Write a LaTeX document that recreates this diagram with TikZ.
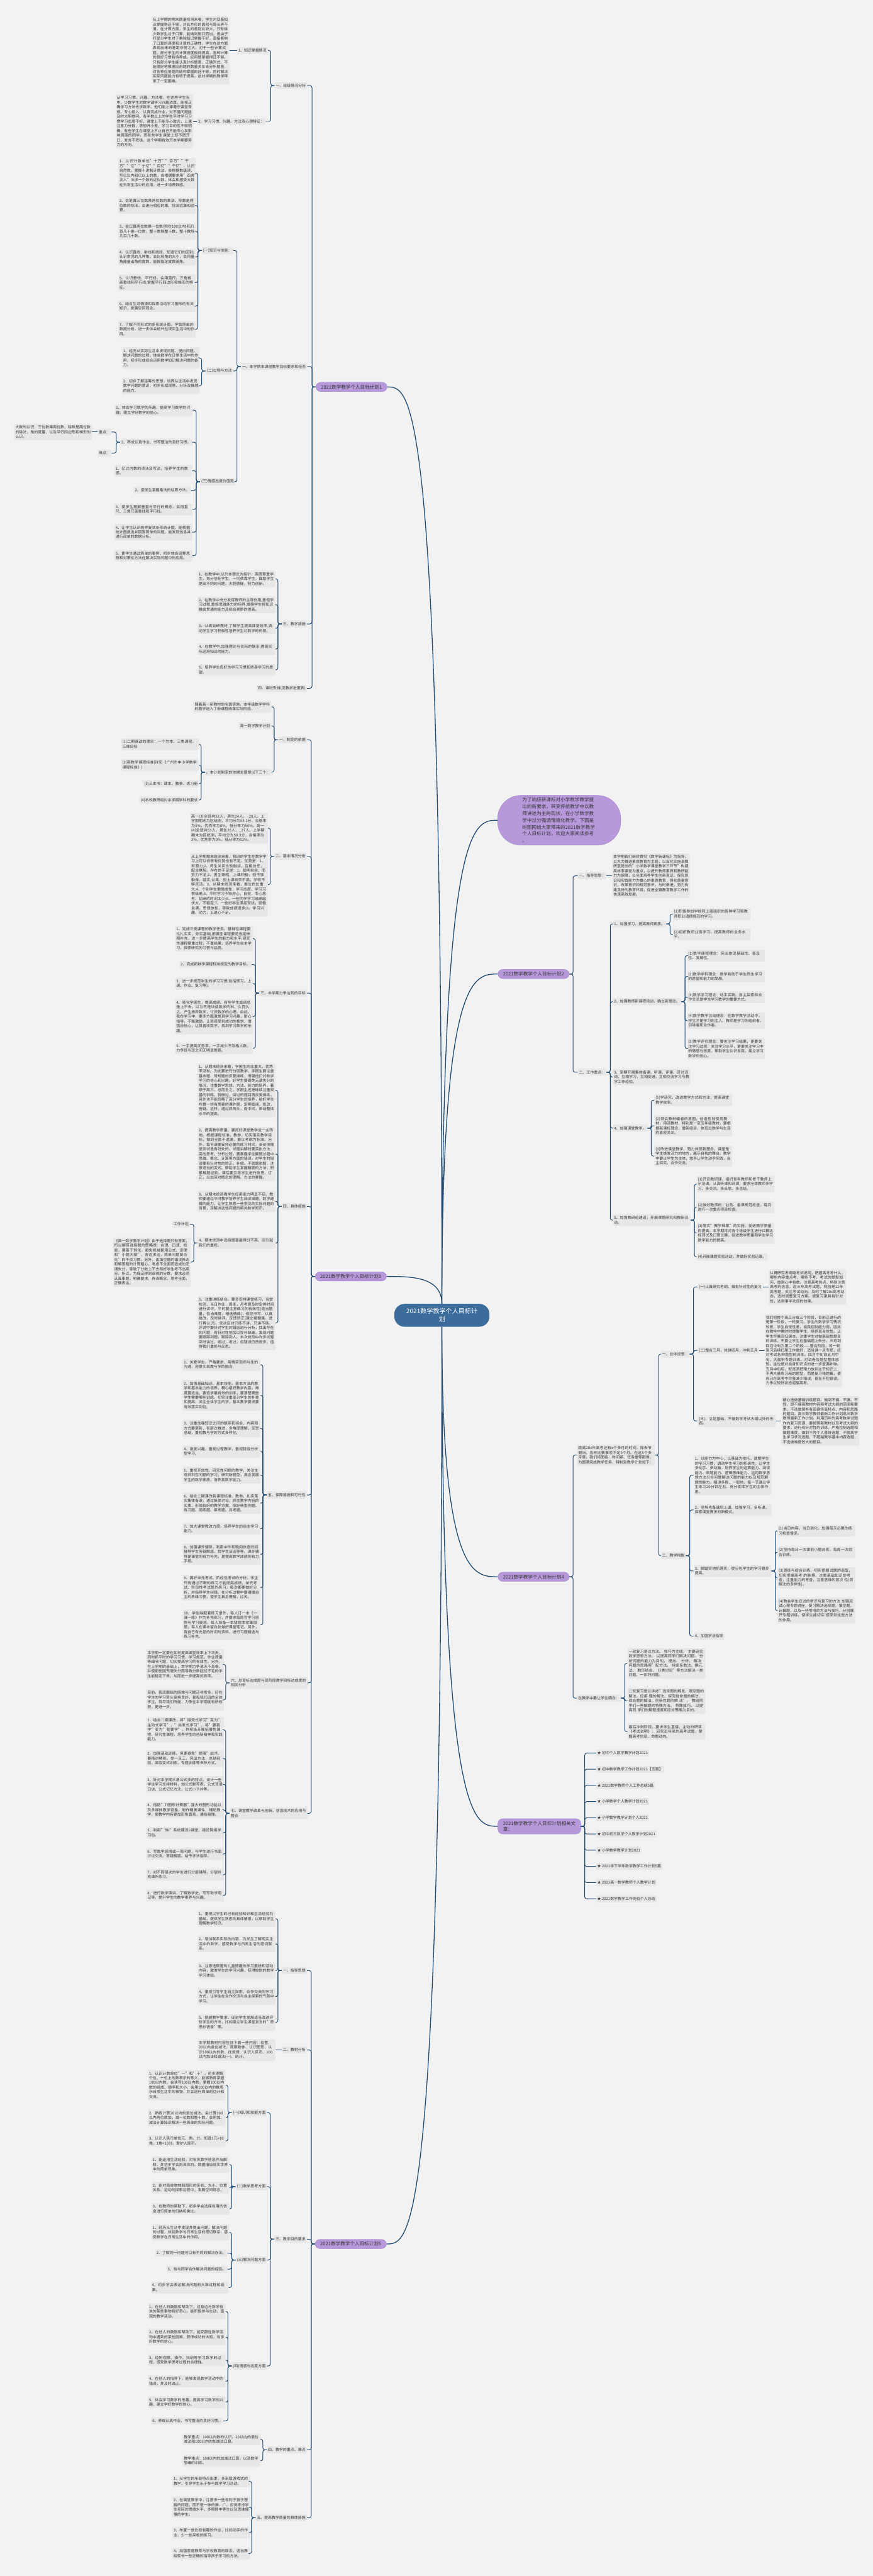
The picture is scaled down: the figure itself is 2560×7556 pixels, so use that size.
\documentclass[tikz,border=0pt]{standalone}
\usepackage{fontspec}
\setmainfont{Noto Sans CJK SC}
\XeTeXlinebreaklocale "zh"
\XeTeXlinebreakskip = 0pt plus 0.6pt
\usepackage{tikz}
\usetikzlibrary{calc}
\definecolor{bgcol}{HTML}{F2F2F2}
\definecolor{leafcol}{HTML}{E7E7E7}
\definecolor{txtcol}{HTML}{333333}
\definecolor{linkcol}{HTML}{1F4A72}
\definecolor{purplecol}{HTML}{B799DB}
\definecolor{purpleedge}{HTML}{A584CF}
\definecolor{centercol}{HTML}{3C6C9C}

\begin{document}
\begin{tikzpicture}[x=0.5pt,y=-0.5pt,
  leaf/.style={fill=leafcol,rounded corners=1.5pt,inner xsep=1.8pt,inner ysep=2.6pt,text width=110.4pt,align=left,text=txtcol,font=\fontsize{5.5pt}{6.9pt}\selectfont},
  lbl/.style={fill=leafcol,rounded corners=1.5pt,inner xsep=1.8pt,inner ysep=2.6pt,text=txtcol,font=\fontsize{5.5pt}{6.9pt}\selectfont},
  branch/.style={fill=purplecol,draw=purpleedge,line width=0.4pt,rounded corners=7pt,inner xsep=7.5pt,inner ysep=3.5pt,text=black!80,font=\fontsize{7pt}{9pt}\selectfont},
  conn/.style={draw=linkcol,line width=0.9pt,rounded corners=3pt},
  mainlink/.style={draw=linkcol,line width=1.2pt}]
\fill[bgcol] (0,0) rectangle (2560,7556);
\useasboundingbox (0,0) rectangle (2560,7556);

% centre and introduction
\node[fill=centercol,rounded corners=15pt,minimum width=139.5pt,minimum height=33.5pt,align=center,text=white,font=\fontsize{9.3pt}{12pt}\selectfont] (ctr) at (1296,3858) {2021数学教学个人目标计\\划};
\node[fill=purplecol,draw=purpleedge,line width=0.4pt,rounded corners=34pt,minimum width=180.5pt,minimum height=71.5pt,text width=108pt,align=left,text=black!80,font=\fontsize{7pt}{10pt}\selectfont] (intro) at (1640,2406) {为了响应新课标对小学数学教学提\\出的新要求，转变传统教学中以教\\师讲述为主的现状，在小学数学教\\学中过分强调情境化教学。下面是\\树图网给大家带来的2021数学教学\\个人目标计划，欢迎大家阅读参考\\。};

% plan 1
\node[branch,anchor=west] (b1) at (926,1135) {2021数学教学个人目标计划1};
\node[lbl,anchor=east] (b1a) at (901,251) {一、班级情况分析};
\node[lbl,anchor=east] (b1a1) at (786,148) {1、知识掌握情况};
\node[leaf,anchor=east] (b1a1x) at (673,148) {从上学期的期末质量检测来看，学生对双基知识掌握得还不够，对长方形的面积与周长弄不清。在计算方面，学生的差别比较大，只有极少数学生对于口算，能做到脱口而出，但由于打部分学生对于乘除知识掌握不好，直接影响了口算的速度和计算的正确性，学生在这方面表现出来的差距非常之大。对于一些计算式题，部分学生的计算速度极待提高，各种计算的良好习惯有待养成。应用题掌握得还不够，只有部分学生能认真分析题意，正确列式，不能很好地根据应用题的数量关系去分析题意，对各种应用题的结构掌握的还不够。同时解决实际问题能力有待于提高。这对学期的教学带来了一定困难。};
\node[lbl,anchor=east] (b1a2) at (779,356) {2、学习习惯、兴趣、方法及心理特征：};
\node[leaf,anchor=east] (b1a2x) at (567,356) {从学习习惯、兴趣、方法看，在这些学生当中，少数学生对数学课学习兴趣浓厚，能按正确学习方法去学数学。他们能上课遵守课堂常规，专心投入，认真完成作业，对不懂问题能及时大胆提问。有半数以上的学生平时学习习惯学习态度不好，课堂上不能专心致志，上课注意力分散，思想开小差，学习目的性不够明确，有些学生在课堂上不止自己不能专心发影响周围的同学。而有些学生课堂上却不愿开口，发言不积极。这个学期有效开本学期要努力的方向。};
\node[lbl,anchor=east] (b1b) at (901,1075) {一、本学期本课程教学目标要求和任务};
\node[lbl,anchor=east] (b1b1) at (684,735) {(一)知识与技能：};
\node[leaf,anchor=east] (b1b1x1) at (575,508) {1、认识计数单位"十万""百万""千万""亿""十亿""百亿""千亿"，认识自然数。掌握十进制计数法，会根据数级读、写亿以内和亿以上的数，会根据要求用"四舍五入"法求一个数的近似数。体会和感受大数在日常生活中的应用，进一步培养数感。};
\node[leaf,anchor=east] (b1b1x2) at (575,603) {2、会笔算三位数乘两位数的乘法、除数是两位数的除法，会进行相应的乘、除法估算和验算。};
\node[leaf,anchor=east] (b1b1x3) at (575,679) {3、会口算两位数乘一位数(积在100以内)和几百几十乘一位数，整十数除整十数、整十数除几百几十数。};
\node[leaf,anchor=east] (b1b1x4) at (575,754) {4、认识直线、射线和线段，知道它们的区别;认识常见的几种角，会比较角的大小，会用量角器量出角的度数，能按指定度数画角。};
\node[leaf,anchor=east] (b1b1x5) at (575,829) {5、认识垂线、平行线，会用直尺、三角板画垂线和平行线;掌握平行四边形和梯形的特征。};
\node[leaf,anchor=east] (b1b1x6) at (575,898) {6、结合生活情境和探索活动学习图形的有关知识，发展空间观念。};
\node[leaf,anchor=east] (b1b1x7) at (575,966) {7、了解不同形式的条形统计图，学会简单的数据分析，进一步体会统计在现实生活中的作用。};
\node[lbl,anchor=east] (b1b2) at (684,1088) {(二)过程与方法};
\node[leaf,anchor=east] (b1b2x1) at (586,1050) {1、经历从实际生活中发现问题、提出问题、解决问题的过程，体会数学在日常生活中的作用，初步形成综合运用数学知识解决问题的能力。};
\node[leaf,anchor=east] (b1b2x2) at (586,1132) {2、初步了解运筹的思想，培养从生活中发现数学问题的意识，初步形成观察、分析及推理的能力。};
\node[lbl,anchor=east] (b1b3) at (690,1413) {(三)情感态度价值观};
\node[leaf,anchor=east] (b1b3x1) at (565,1203) {1、体会学习数学的乐趣，提高学习数学的兴趣，建立学好数学的信心。};
\node[lbl,anchor=east] (b1b3x2) at (564,1297) {2、养成认真作业、书写整洁的良好习惯。};
\node[lbl,anchor=east] (b1b3k) at (327,1267) {重点：};
\node[leaf,anchor=east] (b1b3kx) at (270,1267) {大数的认识，三位数乘两位数，除数是两位数的除法，角的度量，以及平行四边形和梯形的认识。};
\node[lbl,anchor=east] (b1b3n) at (327,1329) {难点：};
\node[leaf,anchor=east] (b1b3x3) at (564,1381) {1、亿以内数的读法及写法，培养学生的数感。};
\node[lbl,anchor=east] (b1b3x4) at (560,1438) {2、使学生掌握乘法的估算方法。};
\node[leaf,anchor=east] (b1b3x5) at (564,1494) {3、使学生理解垂直与平行的概念，会用直尺、三角尺画垂线和平行线。};
\node[leaf,anchor=east] (b1b3x6) at (564,1561) {4、让学生认识两种复式条形统计图，能根据统计图提出并回答简单的问题，能发现信息并进行简单的数据分析。};
\node[leaf,anchor=east] (b1b3x7) at (564,1630) {5、使学生通过简单的事例，初步体会运筹思想和对策论方法在解决实际问题中的应用。};
\node[lbl,anchor=east] (b1c) at (900,1830) {三、教学措施};
\node[leaf,anchor=east] (b1cx1) at (808,1698) {1、在教学中,以升本理念为指针：高度尊重学生，充分信任学生，一切依靠学生，鼓励学生提出不同的问题，大胆质疑，努力创新。};
\node[leaf,anchor=east] (b1cx2) at (808,1774) {2、在教学中充分发挥教师的主导作用,重视学习过程,重视思维能力的培养,增强学生将知识融会贯通的能力及综合素质的提高。};
\node[leaf,anchor=east] (b1cx3) at (808,1843) {3、认真钻研教材,了解学生提高课堂效率,调动学生学习积极性培养学生对数学的热爱。};
\node[leaf,anchor=east] (b1cx4) at (808,1904) {4、在教学中,加强理论与实际的联系,提高实际运用知识的能力。};
\node[leaf,anchor=east] (b1cx5) at (808,1965) {5、培养学生良好的学习习惯和终身学习的愿望。};
\node[lbl,anchor=east] (b1d) at (900,2019) {四、课时安排(见教学进度表)};

% plan 3
\node[branch,anchor=west] (b3) at (924,3744) {2021数学教学个人目标计划3};
\node[lbl,anchor=east] (b3a) at (900,2170) {一、制定的依据};
\node[leaf,anchor=east] (b3ax1) at (796,2073) {随着高一新教材的全面实施，本年级数学学科的教学进入了新课程改革实际阶段，};
\node[lbl,anchor=east] (b3ax2) at (796,2129) {高一数学教学计划};
\node[lbl,anchor=east] (b3ax3) at (796,2265) {。本计划制定的依据主要是以下三个：};
\node[leaf,anchor=east] (b3ay1) at (584,2183) {(1)二期课改的理念：一个为本、三类课程、三维目标};
\node[leaf,anchor=east] (b3ay2) at (584,2244) {(2)新数学课程标准(详见《广州市中小学数学课程标准》)};
\node[lbl,anchor=east] (b3ay3) at (584,2299) {(3)三本书：课本、教参、练习册};
\node[lbl,anchor=east] (b3ay4) at (584,2347) {(4)本校教研组对本学期学科的要求};
\node[lbl,anchor=east] (b3b) at (900,2512) {二、基本情况分析};
\node[leaf,anchor=east] (b3bx1) at (786,2429) {高一(3)全班共52人，男生24人，\_28人。上学期期末为区统测，平均分为54.1分，合格率为5\%，优秀率为0\%，低分率为56\%。高一(4)全班共53人，男生26人，\_27人。上学期期末为区统测，平均分为50.3分，合格率为3\%，优秀率为0\%，低分率为62\%。};
\node[leaf,anchor=east] (b3bx2) at (786,2595) {从上学期期末统测来看，我班的学生在数学学习上可以说既有优势也有不足。优势是：1、有潜力;2、师生关系比较融洽，互相信任，配合默契。存在的不足是：1、聪明有余，而努力不足;2、男生聪明，上课积极，但不够勤奋、踏实;认真，但上课效率不高，学得不够灵活。3、从期末统测来看，差生的比重大;4、个别学生懒惰成性，学习态度、学习习惯极差;5、平时学习不够用心，自觉，专心思考、钻研的时间太少;6、一些同学学习成绩起伏大，不稳定;7、一些好学生满足现状，骄傲自满，思想放松，导致成绩退步;8、学习兴趣，动力，上进心不足。};
\node[lbl,anchor=east] (b3c) at (900,2913) {三、本学期力争达到的目标};
\node[leaf,anchor=east] (b3cx1) at (742,2753) {1、完成三类课程的教学任务。基础性课程要扎扎实实，夯实基础;拓展性课程要适当延伸和补充，进一步提高学生的能力和水平;研究性课程要重过程，不重结果，培养学生自主学习，探索研究的习惯与品质。};
\node[lbl,anchor=east] (b3cx2) at (738,2829) {2、完成新数学课程标准规定的教学目标。};
\node[leaf,anchor=east] (b3cx3) at (742,2885) {3、进一步规范学生的学习习惯(包括预习、上课、作业、复习等)。};
\node[leaf,anchor=east] (b3cx4) at (742,2982) {4、转化学困生，提高成绩。有些学生成绩总是上不去，以为不是块读数学的料，久而久之，产生放弃数学，讨厌数学的心理。由此，我在学习中，要多方面激发其学习兴趣，耐心指导，不断激励。让其感受到成功的喜悦，增强自信心，让其喜欢数学，找到学习数学的乐趣。};
\node[leaf,anchor=east] (b3cx5) at (742,3075) {5、一手提高优秀率，一手减少不及格人数，力争班与班之间无明显差距。};
\node[lbl,anchor=east] (b3d) at (900,3539) {四、具体措施};
\node[leaf,anchor=east] (b3dx1) at (808,3198) {1、从期末统测来看，学困生的比重大，优秀率没有。为此要进行分层教学，学困生要注重基本题、常规题的反复操练，增强他们对数学学习的信心和兴趣。好学生要避免无谓失分的情况，注重数学思想、方法、能力的培养，着眼于高三。总而言之，学困生还是继续注重双基的训练，将做过，讲过的题目再反复操练。另外也不能忽略了高分学生的培养，给好学生布置一些有质量的课外题，定期查阅，批改，答疑。这样，通过抓两头，促中间，带动整体水平的提高。};
\node[leaf,anchor=east] (b3dx2) at (808,3385) {2、提高教学质量，要抓好课堂教学这一主阵地。根据课程标准，教参，切实落实教学目标，做到全面不遗漏，要以考纲为标准。另外，每节课要安排必要的练习时间，多安排随堂测试是有好处的。试题讲解时要突出方法，突出思考、分析过程，要暴露学生解题过程中思维、概念、计算等方面的错误，对学生的错误要有针对性的矫正，补偿。不就题讲题，注意适当的变式。帮助学生掌握解题的方法，积累解题经验，课后要引导学生进行反思、订正，以加深对概念的理解，方法的掌握。};
\node[leaf,anchor=east] (b3dx3) at (808,3524) {3、从期末统测看学生应用能力明显不足。教师要通过平时教学培养学生阅读审题、数学建模的能力。让学生熟悉一些常见的实际问题的背景，及解决这些问题的相关数学知识。};
\node[leaf,anchor=east] (b3dx4) at (808,3646) {4、期末统测中选择题普遍得分不高，应引起我们的重视，};
\node[lbl,anchor=east] (b3dy1) at (557,3591) {工作计划};
\node[leaf,anchor=east] (b3dy2) at (560,3702) {《高一数学教学计划》由于选择题只有答案，所以解答选择题的策略是：合理、迅速、检验，要善于转化，避免机械套用公式、定理和"小题大做"，舍近求远，简单问题复杂化"的不良习惯。另外，由填空题的错误表达和解答题的计算粗心、考虑不全面而造成的无谓失分，导致了分数上不去和好学生考不出高分。所以，为保证得到该得的分数，要求必须认真审题，明确要求，弄清概念，思考全面，正确表达。};
\node[leaf,anchor=east] (b3dx5) at (808,3881) {5、注重讲练结合。要多安排课堂练习，当堂检测，当日作业，周练，月考要及时安排时间进行讲评。平时要注意练习的有效性(适当题量，恰当难度，精选精练)，规范书写，认真批改，及时讲评，反馈矫正(建立错题集，进行再认识)。坚决反对只练不讲，只讲不练。评讲中要针对学生的错因进行分析，找出存在的问题，有针对性地加以弥补缺漏，发现问题要跟踪到题，跟踪到人。本次统测中许多试题平时讲过，练过，考过，但错误仍然很多，值得我们重视与反思。};
\node[lbl,anchor=east] (b3e) at (900,4385) {五、保障措施和可行性};
\node[leaf,anchor=east] (b3ex1) at (764,4003) {1、关爱学生，严格要求，用情实现师与生的沟通，用景实现教与学的融合;};
\node[leaf,anchor=east] (b3ex2) at (764,4093) {2、加强基础知识、基本技能、基本方法的教学和基本能力的培养，精心组织教学内容，难度要适当，要追求最有效的训练，要清楚哪些学生需要哪些训练，切实注重部分学生的补差和提高，关注全体学生的学，基本教学要求要有效落实到位;};
\node[leaf,anchor=east] (b3ex3) at (764,4190) {3、注重加强知识之间的联系和综合，内容和方式要更新，有层次推进，多角度理解，反思总结，重视教与学的方式多样化;};
\node[leaf,anchor=east] (b3ex4) at (764,4258) {4、激发兴趣，重视过程教学，重视错误分析型学习;};
\node[leaf,anchor=east] (b3ex5) at (764,4327) {5、重视开放性、研究性问题的教学，关注主观评判性问题的学习，研究新题型，真正发展学生的数学素质，培养其数学能力。};
\node[leaf,anchor=east] (b3ex6) at (764,4409) {6、结合二期课改新课程标准、教参，扎实落实集体备课，通过集体讨论，抓住教学内容的实质，形成较好的教学方案，拟好典型例题、练习题、周练题、章考题、月考题。};
\node[leaf,anchor=east] (b3ex7) at (764,4484) {7、加大课堂教改力度，培养学生的自主学习能力。};
\node[leaf,anchor=east] (b3ex8) at (764,4559) {8、加强课外辅导，利用中午和晚间休息时间辅导学生答疑解惑、找学生谈话等等。课外辅导是课堂的有力补充，是提高数学成绩的有力手段。};
\node[leaf,anchor=east] (b3ex9) at (764,4657) {9、搞好单元考试、阶段性考试的分析。学生只有通过不断的练习才能提高成绩，单元考试、阶段性考试是的练习，每次都要做好分析，并指导学生纠错。在分析过程中要遵循自主的思维习惯，使学生真正理解，过关。};
\node[leaf,anchor=east] (b3ex10) at (764,4766) {10、学生除配套练习册外，每人订一本《一课一练》作为补充练习，并要求每周写学习感悟与学习疑惑，每人准备一本错题本收集错题，每人在课本留白处做好课堂笔记。另外，我自己有充足的时间与资料，进行习题精选与练习补充。};
\node[leaf,anchor=east] (b3f) at (902,4936) {六、总目标达成度与现阶段教学目标达成度的相关分析};
\node[leaf,anchor=east] (b3fx1) at (657,4882) {本学期一定要在如何提高课堂效率上下功夫，同时抓平时的学习习惯，学习规范，作业质量等细节问题，切实提高学习的有效性。另外，在上学期的基础上，本学期力争消灭不及格，并使那些因无谓失分而导致分数起伏不定的学生能稳定下来，从而进一步提高优秀率。};
\node[leaf,anchor=east] (b3fx2) at (657,4986) {目前，我班面临的困难与问题还非常多，好在学生的学习势头保持良好。我和我们班的全体学生，将尽我们所能，力争在本学期能有所收获，更进一步。};
\node[leaf,anchor=east] (b3g) at (902,5319) {七、课堂教学改革与创新、信息技术的应用与整合};
\node[leaf,anchor=east] (b3gx1) at (657,5074) {1、结合二期课改，将"接受式学习"变为"主动式学习"，"启发式学习"，将"要我学"变为"我要学"，并积极开展拓展性课程，研究性课程，培养学生的创新精神和实践能力。};
\node[leaf,anchor=east] (b3gx2) at (657,5158) {2、加强基础训练。但要避免"题海"战术，要精讲精练。举一反三，突出方法，总结经验，采取变式训练，专题训练等多种方式。};
\node[leaf,anchor=east] (b3gx3) at (657,5234) {3、针对本学期三角公式多的特点，设计一些学生学习支持材料，如公式默写表，公式背诵口诀，公式记忆方法，公式小卡片等。};
\node[leaf,anchor=east] (b3gx4) at (657,5309) {4、借助"TI图形计算器"强大的图形功能以及多媒体教学设备，制作精美课件，辅助教学，使教学内容更加形象直观，通俗易懂。};
\node[leaf,anchor=east] (b3gx5) at (657,5376) {5、利用"Bb"系统建设e课堂，建设网络学习包。};
\node[leaf,anchor=east] (b3gx6) at (657,5438) {6、写数学感悟或一周问题，与学生进行书面讨论交流。答疑解惑。给予学法指导。};
\node[leaf,anchor=east] (b3gx7) at (657,5499) {7、对不同层次的学生进行分层辅导，分层补充课外练习。};
\node[leaf,anchor=east] (b3gx8) at (657,5560) {8、进行数学演讲，了解数学史，写写数学周记等，提升学生的数学素养与兴趣。};

% plan 5
\node[branch,anchor=west] (b5) at (924,6582) {2021数学教学个人目标计划5};
\node[lbl,anchor=east] (b5a) at (900,5780) {一、指导思想};
\node[leaf,anchor=east] (b5ax1) at (808,5628) {1、重视以学生的已有经验知识和生活经验为基础，提供学生熟悉的具体情景，以帮助学生理解数学知识。};
\node[leaf,anchor=east] (b5ax2) at (808,5702) {2、增加联系实际的内容，为学生了解现实生活中的数学，感受数学与日常生活的密切联系。};
\node[leaf,anchor=east] (b5ax3) at (808,5780) {3、注意选取富有儿童情趣的学习素材和活动内容，激发学生的学习兴趣，获得愉悦的数学学习体验。};
\node[leaf,anchor=east] (b5ax4) at (808,5856) {4、重视引导学生自主探索，合作交流的学习方式，让学生在合作交流与自主探索的气氛中学习。};
\node[leaf,anchor=east] (b5ax5) at (808,5932) {5、把握教学要求，促进学生发展适当改进评价学生的方法，比如建立学生课堂发言的"奇思妙语录"等。};
\node[lbl,anchor=east] (b5b) at (900,6013) {二、教材分析};
\node[leaf,anchor=east] (b5bx) at (808,6013) {本学期教材内容包括下面一些内容：位置、20以内退位减法、观察物体、认识图形、认识100以内的数、找规律、认识人民币、100以内加法和减法(一)、统计。};
\node[lbl,anchor=east] (b5c) at (900,6568) {三、教学目的要求};
\node[lbl,anchor=east] (b5c1) at (783,6197) {(一)知识和技能方面};
\node[leaf,anchor=east] (b5c1x1) at (662,6116) {1、认识计数单位"一"和"十"，初步理解个位、十位上的数表示的意义，能够熟练掌握100以内数。会读写100以内数。掌握100以内数的组成、顺序和大小，会用100以内的数表示日常生活中的事物，并会进行简单的估计和交流。};
\node[leaf,anchor=east] (b5c1x2) at (662,6212) {2、熟练计算20以内的退位减法。会计算100以内两位数加，减一位数和整十数，会用加、减法计算知识解决一些简单的实际问题。};
\node[leaf,anchor=east] (b5c1x3) at (662,6280) {3、认识人民币单位元、角、分。知道1元=10角，1角=10分。爱护人民币。};
\node[lbl,anchor=east] (b5c2) at (783,6414) {(二)数学思考方面};
\node[leaf,anchor=east] (b5c2x1) at (673,6349) {1、能运用生活经验，对有关数学信息作出解释，并初步学会用具体的。数据描绘现实世界中的简单现象。};
\node[leaf,anchor=east] (b5c2x2) at (673,6417) {2、能对简单物体和图形的形状、大小、位置关系、运动的探索过程中，发展空间观念。};
\node[leaf,anchor=east] (b5c2x3) at (673,6479) {3、在教师的帮助下，初步学会选择有用的信息进行简单的归纳和类比。};
\node[lbl,anchor=east] (b5c3) at (783,6629) {(三)解决问题方面};
\node[leaf,anchor=east] (b5c3x1) at (673,6548) {1、经历从生活中发现并提出问题，解决问题的过程，体验数学与日常生活的密切联系，感受数学在日常生活中的作用。};
\node[lbl,anchor=east] (b5c3x2) at (667,6609) {2、了解同一问题可以有不同的解决办法。};
\node[lbl,anchor=east] (b5c3x3) at (667,6656) {3、有与同学合作解决问题的经验。};
\node[leaf,anchor=east] (b5c3x4) at (671,6710) {4、初步学会表达解决问题的大致过程和结果。};
\node[lbl,anchor=east] (b5c4) at (783,6940) {(四)情感与态度方面};
\node[leaf,anchor=east] (b5c4x1) at (662,6780) {1、在他人的鼓励和帮助下，对身边与数学有关的某些事物有好奇心，能积极参与生动、直观的教学活动。};
\node[leaf,anchor=east] (b5c4x2) at (662,6855) {2、在他人的鼓励和帮助下，能克服在数学活动中遇到的某些困难，获得成功的体验，有学好数学的信心。};
\node[leaf,anchor=east] (b5c4x3) at (662,6923) {3、经历观察、操作、归纳等学习数学的过程，感受数学思考过程的合理性。};
\node[leaf,anchor=east] (b5c4x4) at (662,6985) {4、在他人的指导下，能够发现数学活动中的错误，并及时改正。};
\node[leaf,anchor=east] (b5c4x5) at (662,7046) {5、体会学习数学的乐趣，提高学习数学的兴趣，建立学好数学的信心。};
\node[lbl,anchor=east] (b5c4x6) at (655,7101) {6、养成认真作业、书写整洁的良好习惯。};
\node[lbl,anchor=east] (b5d) at (900,7186) {四、教学的重点、难点};
\node[leaf,anchor=east] (b5dx1) at (764,7155) {教学重点：100以内数的认识，20以内的退位减法和100以内的加减法口算。};
\node[leaf,anchor=east] (b5dx2) at (764,7218) {教学难点：100以内的加减法口算，以及数学思维的训练。};
\node[lbl,anchor=east] (b5e) at (900,7385) {五、提高教学质量的具体措施};
\node[leaf,anchor=east] (b5ex1) at (734,7278) {1、从学生的年龄特点出发，多采取游戏式的教学，引导学生乐于参与数学学习活动。};
\node[leaf,anchor=east] (b5ex2) at (734,7354) {2、在课堂教学中，注意多一些有利于孩子理解的问题，而不是一味的难、广。应该考虑学生实际的思维水平，多照顾中等生以及思维偏慢的学生。};
\node[leaf,anchor=east] (b5ex3) at (734,7429) {3、布置一些比较有趣的作业，比如动手的作业，少一些呆板的练习。};
\node[leaf,anchor=east] (b5ex4) at (734,7490) {4、加强家庭教育与学校教育的联系，适当教给家长一些正确的指导孩子学习的方法。};

% plan 2
\node[branch,anchor=west] (b2) at (1460,2857) {2021数学教学个人目标计划2};
\node[lbl,anchor=west] (b2a) at (1694,2569) {一、指导思想：};
\node[leaf,anchor=west] (b2ax) at (1795,2569) {本学期我们继续贯彻《数学新课标》为指导，以大力推进素质教育为主题，以深化实施县教研室提出的"小学数学课堂教学三环节"构建高效率课堂为重点，以提升教师素质和教研能力为保障，以全面培养学生创新意识、探究意识和实践能力为重心的素质教育，强化质量意识，改革意识和规范意识，与时俱进，努力构建良好的教育环境，促进全镇教育教学工作的快速高效发展。};
\node[lbl,anchor=west] (b2b) at (1694,3145) {二、工作重点：};
\node[lbl,anchor=west] (b2b1) at (1797,2710) {1、加强学习，提高教师素质。};
\node[leaf,anchor=west] (b2b1x1) at (1973,2681) {(1)积极参加学校和上级组织的各种学习和教师职业道德规范的学习。};
\node[leaf,anchor=west] (b2b1x2) at (1973,2741) {(2)组织教师业务学习，提高教师的业务水平。};
\node[lbl,anchor=west] (b2b2) at (1797,2938) {2、加强教师新课程培训，确立新理念。};
\node[leaf,anchor=west] (b2b2x1) at (2015,2803) {(1)数学课程理念：突出体现基础性、普及性、发展性。};
\node[leaf,anchor=west] (b2b2x2) at (2015,2864) {(2)数学学科理念：数学有助于学生终生学习的愿望和能力的发展。};
\node[leaf,anchor=west] (b2b2x3) at (2015,2925) {(3)数学学习理念：动手实践、自主探索和合作交流是学生学习数学的重要方式。};
\node[leaf,anchor=west] (b2b2x4) at (2015,2994) {(4)数学教学活动理念：在数学教学活动中，学生才是学习的主人，教师是学习的组织者、引导者和合作者。};
\node[leaf,anchor=west] (b2b2x5) at (2015,3076) {(5)教学评价理念：要关注学习结果，更要关注学习过程，关注学习水平，更要关注学习中的情感与态度，帮助学生认识自我，建立学习数学的信心。};
\node[leaf,anchor=west] (b2b3) at (1797,3159) {3、定期开展集体备课、听课、评课、研讨活动，互相学习，互相促进，互相交流学习与教学工作经验。};
\node[lbl,anchor=west] (b2b4) at (1797,3309) {4、加强课堂教学。};
\node[leaf,anchor=west] (b2b4x1) at (1919,3227) {(1)学研究，改进教学方式和方法，提高课堂教学效率。};
\node[leaf,anchor=west] (b2b4x2) at (1919,3302) {(2)领会教材编者的意图，创造性地使用教材，用活教材，特别是一至五年级教材，要根据新课标理念，重新组合，体现出数学与生活的紧密关系。};
\node[leaf,anchor=west] (b2b4x3) at (1919,3391) {(3)改进课堂教学，努力体现新理念，课堂是学生焕发活力的地方，展示自我的舞台。教学中要以学生为主体，放手让学生动手实践，自主探究、合作交流。};
\node[leaf,anchor=west] (b2b5) at (1797,3579) {5、加强教研组建设，开展课题研究和教研活动。};
\node[leaf,anchor=west] (b2b5x1) at (2043,3473) {(1)开设教研课，组织青年教师和骨干教师上示范课。认真听课和评课，要求全体教师多学习、多交流、多反思、多总结。};
\node[leaf,anchor=west] (b2b5x2) at (2043,3541) {(2)做好教师的`业务、备课规范检查，每月进行一次重点项目检查。};
\node[leaf,anchor=west] (b2b5x3) at (2043,3617) {(3)落实"教学档案"的实施，促进教学质量的提高。本学期将对各个班级学生进行口算达标测试及口算比赛，促进教学质量和学生学习数学能力的提高。};
\node[lbl,anchor=west] (b2b5x4) at (2043,3687) {(4)开展课题实验活动，并做好实验记录。};

% plan 4
\node[branch,anchor=west] (b4) at (1460,4625) {2021数学教学个人目标计划4};
\node[leaf,anchor=west] (b4a) at (1692,4268) {距离20x年高考还有x个多月的时间，除去节假日，各种比赛事项不足5个月。在这5个多月里，我们将面临：时间紧、任务重等困难，为圆满完成教学任务，特制定教学计划如下：};
\node[lbl,anchor=west] (b4a1) at (1938,3972) {一、总体设想：};
\node[lbl,anchor=west] (b4a1a) at (2046,3775) {(一)认真研究考纲，做有针对性的复习};
\node[leaf,anchor=west] (b4a1ax) at (2254,3775) {认真研究考纲级考试说明，把握高考考什么，哪些内容重点考，哪些不考，考试的题型如何，做到心中有数。注意高考热点，特别注意高考的信息。近三年高考试题，特别是12年高考题，关注考试动向。及时了解20x高考动态，适时调整复习方案。使复习更具有针对性，达到事半功倍的效果。};
\node[lbl,anchor=west] (b4a1b) at (2046,3961) {(二)整合三月，抢拼四月，冲刺五月};
\node[leaf,anchor=west] (b4a1bx) at (2242,3961) {我们把整个高三分成三个阶段，目前正进行的是第一阶段，一轮复习。学生的数学学习情况较差，学生自觉性差，自我控制能力弱，因此在教学中需时时提醒学生，培养其自觉性。让学生尽量回归课本，注重学生对做基础性题目的训练，不要让学生在基础题上失分。三月到四月中旬为第二个阶段——整合阶段，将一轮复习后续扫尾工作做好，适当讲一点专题，应对考试各种题型的训练。四月中旬到五月中旬，大面积专题训练。对试卷及题型整体感知。这也是对自身知识点的进一步查漏补缺。五月中旬后，就逐渐把精力放到主干知识上，不再大量练习新的题型，而是复习错题集，使自己在高考中尽量减少错误，甚至不犯错误。力争以较好状态迎接高考。};
\node[leaf,anchor=west] (b4a1c) at (2046,4168) {(三)、立足基础，不做数学考试大纲以外的东西。};
\node[leaf,anchor=west] (b4a1cx) at (2292,4168) {精心选做基础训练题目。做到不偏、不漏、不怪，即不偏离教材内容和考试大纲的范围和要求。不选做那些有孤僻怪诞特点、内容和思路的题目。高三数学教师最新工作计划高三数学教师最新工作计划。利用历年的高考数学试题作为复习资源，要按照新教材以及考试大纲的要求，进行有针对性的训练。严格控制选题和做题难度，做到不凭个人喜好选题，不脱离学生学习状况选题，不超越教学基本内容选题，不选做难度较大的题目。};
\node[lbl,anchor=west] (b4a2) at (1938,4563) {二、教学措施};
\node[leaf,anchor=west] (b4a2x1) at (2034,4327) {1、以能力为中心，以基础为依托，调整学生的学习习惯，调动学生学习的积极性，让学生多动手、多动脑，培养学生的运算能力、阅读能力、审题能力、逻辑思维能力、运用数学思想方法分析问题解决问题的能力以及规范解题的能力。精讲多练，一般地，每一节课让学生练习20分钟左右，充分发挥学生的主体作用。};
\node[leaf,anchor=west] (b4a2x2) at (2034,4429) {2、坚持先备课后上课，加强学习，多听课，探索课堂教学的新模式。};
\node[leaf,anchor=west] (b4a2x3) at (2034,4608) {3、脚踏实地抓落实，使分包学生的学习稳步提高。};
\node[leaf,anchor=west] (b4a2y1) at (2280,4490) {(1)当日内容，当日消化，加强每天必要的练习检查督促。};
\node[leaf,anchor=west] (b4a2y2) at (2280,4553) {(2)坚持每日一次课前小题训练，每周一次综合训练。};
\node[leaf,anchor=west] (b4a2y3) at (2280,4628) {(3)周练与综合训练，切实把握试题的选取，切实把握高考 的脉搏，注重基础知识的考查，注重能力的考查，注意思维的层次 性(即解法的多样性)。};
\node[leaf,anchor=west] (b4a2y4) at (2280,4724) {(4)教会学生应试的常识与复习的方法 加强应试心理专题讲座，复习解决选择题，填空题，计算题，以及一些常用的方法与技巧，分别展开专题训练，使学生能切实 感受到这些方法的作用。};
\node[lbl,anchor=west] (b4a2x4) at (2034,4799) {4、加强学法指导};
\node[lbl,anchor=west] (b4b) at (1692,4981) {在教学中要让学生明白：};
\node[leaf,anchor=west] (b4bx1) at (1840,4879) {一轮复习是以方法、 技巧为主线， 主要研究数学思想方法。 以提高同学们解决问题、 分析问题的能力为目的， 提出、 分析、 解决问题的思路用"配方法、 待定系数法、换元法、 数形结合、 分类讨论"等方法解决一类问题、一系列问题。};
\node[leaf,anchor=west] (b4bx2) at (1840,4989) {二轮复习是以讲述"选择题的解发、填空题的解法、应用 题的解法、探究性命题的解法、综合题的解法、创新性题的解 法"， 教给同 学们一些解题的特殊方法， 特殊技巧， 以提高同 学们的解题速度和应对策略为目的。};
\node[leaf,anchor=west] (b4bx3) at (1840,5079) {最后冲刺阶段，要求学生直接、主动的研读《考试说明》， 研究近年来的高考试题，掌握高考信息、命题动向。};

% related articles
\node[branch,anchor=west,align=left] (rel) at (1460,5357) {2021数学教学个人目标计划相关文\\章：};
\foreach \t [count=\i] in {初中个人数学教学计划2021,初中数学教学工作计划2021【五篇】,2021数学教师个人工作总结5篇,小学数学个人教学计划2021,小学数学教学计划个人2021,初中初三数学个人教学计划2021,小学数学教学计划2021,2021年下半年数学教学工作计划5篇,2021高一数学教师个人教学计划,2021数学教学工作岗位个人总结}
  \node[lbl,anchor=west] (r\i) at (1748,{5142+47.5*(\i-1)}) {★ \t};

% main links
\draw[mainlink] (ctr.north) .. controls (ctr.north |- b1.east) and ($(b1.east)+(70,0)$) .. (b1.east);
\draw[mainlink] (ctr.north) .. controls (ctr.north |- b3.east) and ($(b3.east)+(70,0)$) .. (b3.east);
\draw[mainlink] (ctr.north) .. controls (ctr.north |- intro.west) and ($(intro.west)+(-70,0)$) .. (intro.west);
\draw[mainlink] (ctr.north) .. controls (ctr.north |- b2.west) and ($(b2.west)+(-70,0)$) .. (b2.west);
\draw[mainlink] (ctr.south) .. controls (ctr.south |- b4.west) and ($(b4.west)+(-70,0)$) .. (b4.west);
\draw[mainlink] (ctr.south) .. controls (ctr.south |- rel.west) and ($(rel.west)+(-70,0)$) .. (rel.west);
\draw[mainlink] (ctr.south) .. controls (ctr.south |- b5.east) and ($(b5.east)+(70,0)$) .. (b5.east);

% left connectors
\foreach \c in {b1a,b1b,b1c,b1d} \draw[conn] (b1.west) -- ++(-11,0) |- (\c.east);
\foreach \c in {b1a1,b1a2} \draw[conn] (b1a.west) -- ++(-11,0) |- (\c.east);
\draw[conn] (b1a1.west) -- (b1a1x.east);
\draw[conn] (b1a2.west) -- (b1a2x.east);
\foreach \c in {b1b1,b1b2,b1b3} \draw[conn] (b1b.west) -- ++(-11,0) |- (\c.east);
\foreach \c in {1,...,7} \draw[conn] (b1b1.west) -- ++(-11,0) |- (b1b1x\c.east);
\foreach \c in {1,2} \draw[conn] (b1b2.west) -- ++(-11,0) |- (b1b2x\c.east);
\foreach \c in {1,...,7} \draw[conn] (b1b3.west) -- ++(-11,0) |- (b1b3x\c.east);
\foreach \c in {b1b3k,b1b3n} \draw[conn] (b1b3x2.west) -- ++(-11,0) |- (\c.east);
\draw[conn] (b1b3k.west) -- (b1b3kx.east);
\foreach \c in {1,...,5} \draw[conn] (b1c.west) -- ++(-11,0) |- (b1cx\c.east);

\foreach \c in {b3a,b3b,b3c,b3d,b3e,b3f,b3g} \draw[conn] (b3.west) -- ++(-11,0) |- (\c.east);
\foreach \c in {1,2,3} \draw[conn] (b3a.west) -- ++(-11,0) |- (b3ax\c.east);
\foreach \c in {1,...,4} \draw[conn] (b3ax3.west) -- ++(-11,0) |- (b3ay\c.east);
\foreach \c in {1,2} \draw[conn] (b3b.west) -- ++(-11,0) |- (b3bx\c.east);
\foreach \c in {1,...,5} \draw[conn] (b3c.west) -- ++(-11,0) |- (b3cx\c.east);
\foreach \c in {1,...,5} \draw[conn] (b3d.west) -- ++(-11,0) |- (b3dx\c.east);
\foreach \c in {1,2} \draw[conn] (b3dx4.west) -- ++(-11,0) |- (b3dy\c.east);
\foreach \c in {1,...,10} \draw[conn] (b3e.west) -- ++(-11,0) |- (b3ex\c.east);
\foreach \c in {1,2} \draw[conn] (b3f.west) -- ++(-11,0) |- (b3fx\c.east);
\foreach \c in {1,...,8} \draw[conn] (b3g.west) -- ++(-11,0) |- (b3gx\c.east);

\foreach \c in {b5a,b5b,b5c,b5d,b5e} \draw[conn] (b5.west) -- ++(-11,0) |- (\c.east);
\foreach \c in {1,...,5} \draw[conn] (b5a.west) -- ++(-11,0) |- (b5ax\c.east);
\draw[conn] (b5b.west) -- (b5bx.east);
\foreach \c in {1,...,4} \draw[conn] (b5c.west) -- ++(-11,0) |- (b5c\c.east);
\foreach \c in {1,2,3} \draw[conn] (b5c1.west) -- ++(-11,0) |- (b5c1x\c.east);
\foreach \c in {1,2,3} \draw[conn] (b5c2.west) -- ++(-11,0) |- (b5c2x\c.east);
\foreach \c in {1,...,4} \draw[conn] (b5c3.west) -- ++(-11,0) |- (b5c3x\c.east);
\foreach \c in {1,...,6} \draw[conn] (b5c4.west) -- ++(-11,0) |- (b5c4x\c.east);
\foreach \c in {1,2} \draw[conn] (b5d.west) -- ++(-11,0) |- (b5dx\c.east);
\foreach \c in {1,...,4} \draw[conn] (b5e.west) -- ++(-11,0) |- (b5ex\c.east);

% right connectors
\foreach \c in {b2a,b2b} \draw[conn] (b2.east) -- ++(11,0) |- (\c.west);
\draw[conn] (b2a.east) -- (b2ax.west);
\foreach \c in {b2b1,b2b2,b2b3,b2b4,b2b5} \draw[conn] (b2b.east) -- ++(11,0) |- (\c.west);
\foreach \c in {1,2} \draw[conn] (b2b1.east) -- ++(11,0) |- (b2b1x\c.west);
\foreach \c in {1,...,5} \draw[conn] (b2b2.east) -- ++(11,0) |- (b2b2x\c.west);
\foreach \c in {1,2,3} \draw[conn] (b2b4.east) -- ++(11,0) |- (b2b4x\c.west);
\foreach \c in {1,...,4} \draw[conn] (b2b5.east) -- ++(11,0) |- (b2b5x\c.west);

\foreach \c in {b4a,b4b} \draw[conn] (b4.east) -- ++(11,0) |- (\c.west);
\foreach \c in {b4a1,b4a2} \draw[conn] (b4a.east) -- ++(11,0) |- (\c.west);
\foreach \c in {b4a1a,b4a1b,b4a1c} \draw[conn] (b4a1.east) -- ++(11,0) |- (\c.west);
\draw[conn] (b4a1a.east) -- (b4a1ax.west);
\draw[conn] (b4a1b.east) -- (b4a1bx.west);
\draw[conn] (b4a1c.east) -- (b4a1cx.west);
\foreach \c in {1,...,4} \draw[conn] (b4a2.east) -- ++(11,0) |- (b4a2x\c.west);
\foreach \c in {1,...,4} \draw[conn] (b4a2x3.east) -- ++(11,0) |- (b4a2y\c.west);
\foreach \c in {1,2,3} \draw[conn] (b4b.east) -- ++(11,0) |- (b4bx\c.west);

\foreach \i in {1,...,10} \draw[conn] (rel.east) -- ++(11,0) |- (r\i.west);
\end{tikzpicture}
\end{document}
